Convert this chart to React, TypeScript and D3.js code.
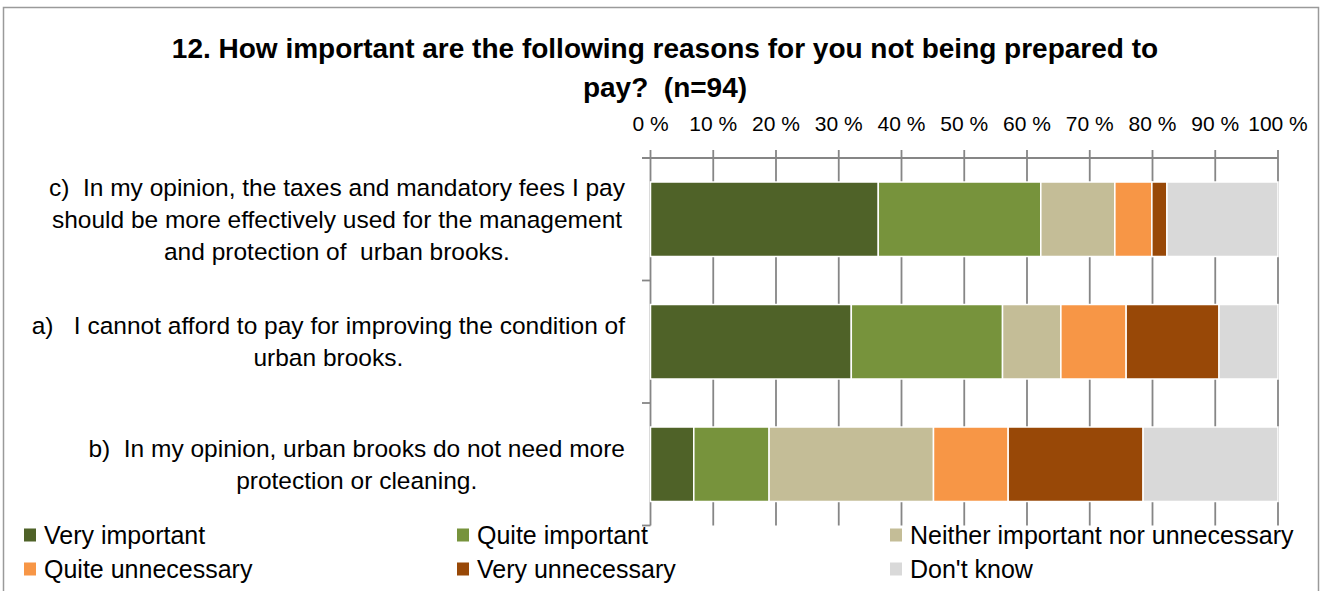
import React, { useEffect, useRef } from "react";
import * as d3 from "d3";

const categoryKeys = ["c", "a", "b"];
const categoryLines = [
  ["c)  In my opinion, the taxes and mandatory fees I pay", "should be more effectively used for the management", "and protection of  urban brooks."],
  ["a)   I cannot afford to pay for improving the condition of", "urban brooks."],
  ["b)  In my opinion, urban brooks do not need more", "protection or cleaning."],
];
const seriesNames = ["Very important", "Quite important", "Neither important nor unnecessary", "Quite unnecessary", "Very unnecessary", "Don't know"];
const seriesColors = ["#4F6228", "#77933C", "#C4BD97", "#F79646", "#984807", "#D9D9D9"];
const veryImportant = [36.3, 32.0, 6.9];
const quiteImportant = [25.9, 24.1, 12.0];
const neither = [11.8, 9.3, 26.2];
const quiteUnnecessary = [5.9, 10.4, 11.9];
const veryUnnecessary = [2.4, 14.8, 21.5];
const dontKnow = [17.7, 9.4, 21.5];
const tickValues = [0, 10, 20, 30, 40, 50, 60, 70, 80, 90, 100];
const titleLines = ["12. How important are the following reasons for you not being prepared to", "pay?  (n=94)"];

const FONT = "'Liberation Sans', Arial, sans-serif";

export default function App() {
  const ref = useRef<SVGSVGElement | null>(null);

  useEffect(() => {
    const svg = d3.select(ref.current);
    svg.selectAll("*").remove();

    const W = 1328, H = 591;
    const x = d3.scaleLinear().domain([0, 100]).range([650.5, 1278]);
    const y = d3.scaleBand<string>().domain(categoryKeys).range([158, 525.5]).paddingInner(0.392).paddingOuter(0.196);

    // border
    svg.append("rect").attr("x", 3.5).attr("y", 7.5).attr("width", 1315).attr("height", 620)
      .attr("fill", "#fff").attr("stroke", "#9a9a9a").attr("stroke-width", 1.5);

    // title
    const title = svg.append("text").attr("font-family", FONT).attr("font-weight", "bold")
      .attr("font-size", 28).attr("text-anchor", "middle").attr("fill", "#000")
      .style("white-space", "pre");
    title.append("tspan").attr("x", 665).attr("y", 58).text(titleLines[0]);
    title.append("tspan").attr("x", 665).attr("y", 97).text(titleLines[1]);

    const gridColor = "#868686";
    // gridlines
    svg.append("g").selectAll("line").data(tickValues).join("line")
      .attr("x1", (d) => x(d)).attr("x2", (d) => x(d))
      .attr("y1", 150).attr("y2", 525.5)
      .attr("stroke", gridColor).attr("stroke-width", 1.8);
    // top axis line
    svg.append("line").attr("x1", 642).attr("x2", x(100)).attr("y1", 158).attr("y2", 158)
      .attr("stroke", gridColor).attr("stroke-width", 1.8);
    // left category ticks
    const bounds = [158, 158 + y.step(), 158 + 2 * y.step(), 525.5];
    svg.append("g").selectAll("line").data(bounds).join("line")
      .attr("x1", 642).attr("x2", x(0)).attr("y1", (d) => d).attr("y2", (d) => d)
      .attr("stroke", gridColor).attr("stroke-width", 1.8);

    // tick labels
    svg.append("g").selectAll("text").data(tickValues).join("text")
      .attr("x", (d) => x(d)).attr("y", 131)
      .attr("text-anchor", "middle").attr("font-family", FONT).attr("font-size", 21)
      .text((d) => `${d} %`);

    // bars
    const seriesValues = [veryImportant, quiteImportant, neither, quiteUnnecessary, veryUnnecessary, dontKnow];
    const rows = categoryKeys.map((k, i) => {
      const row: any = { key: k };
      seriesNames.forEach((s, j) => (row[s] = seriesValues[j][i]));
      return row;
    });
    const stacked = d3.stack<any>().keys(seriesNames)(rows);
    svg.append("g").selectAll("g").data(stacked).join("g")
      .attr("fill", (_d, i) => seriesColors[i])
      .selectAll("rect").data((d) => d).join("rect")
      .attr("x", (d) => x(d[0]))
      .attr("width", (d) => x(d[1]) - x(d[0]))
      .attr("y", (d) => y(d.data.key)!)
      .attr("height", y.bandwidth())
      .attr("stroke", "#fff").attr("stroke-width", 1.5);

    // category labels
    const lineH = 32;
    categoryKeys.forEach((k, i) => {
      const lines = categoryLines[i];
      const cy = y(k)! + y.bandwidth() / 2;
      const g = svg.append("g");
      const texts = g.selectAll("text").data(lines).join("text")
        .attr("font-family", FONT).attr("font-size", 24.5).attr("text-anchor", "middle")
        .style("white-space", "pre")
        .attr("y", (_d, j) => cy + (j - (lines.length - 1) / 2) * lineH + 8.5)
        .text((d) => d);
      let maxW = 0;
      texts.each(function () {
        maxW = Math.max(maxW, (this as SVGTextElement).getComputedTextLength());
      });
      texts.attr("x", 625 - maxW / 2);
    });

    // legend
    const legX = [24, 457, 890];
    const legY = [535, 569];
    const leg = svg.append("g").selectAll("g").data(seriesNames).join("g")
      .attr("transform", (_d, i) => `translate(${legX[i % 3]},${legY[Math.floor(i / 3)]})`);
    leg.append("rect").attr("x", 0).attr("y", -6.5).attr("width", 12).attr("height", 13)
      .attr("fill", (_d, i) => seriesColors[i]);
    leg.append("text").attr("x", 20).attr("y", 8.5)
      .attr("font-family", FONT).attr("font-size", 25).text((d) => d);

    svg.attr("width", W).attr("height", H);
  }, []);

  return (
    <svg ref={ref} width={1328} height={591} style={{ position: "absolute", left: 0, top: 0, background: "#fff" }} />
  );
}
